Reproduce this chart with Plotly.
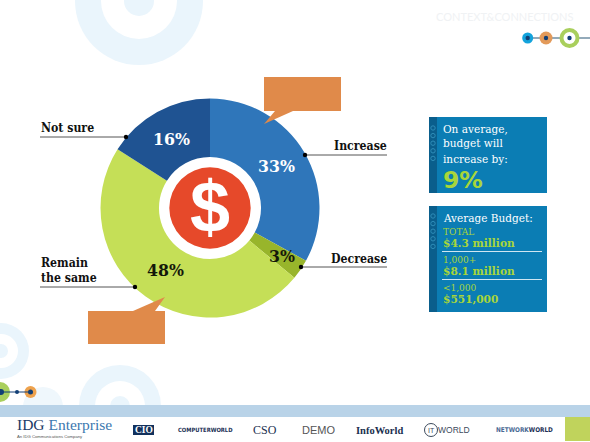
import plotly.graph_objects as go

W, H = 590, 442
# ---- data ----
categories = ["Increase", "Decrease", "Remain the same", "Not sure"]
values = [33, 3, 48, 16]
slice_colors = ["#2f76ba", "#98b52b", "#c5df57", "#1f5392"]
pct_colors = ["#ffffff", "#14180a", "#14180a", "#ffffff"]
pct_pos = [(276, 166), (282, 256), (165, 270), (171, 139)]
footer_logos = ["CSO", "DEMO", "InfoWorld", "WORLD"]

def px(x): return x / W
def py(y): return 1 - y / H

shapes, annos = [], []

def circle(cx, cy, r, fill, line=None, lw=0, layer="below"):
    shapes.append(dict(type="circle", xref="paper", yref="paper", layer=layer,
                       x0=px(cx - r), x1=px(cx + r), y0=py(cy + r), y1=py(cy - r),
                       fillcolor=fill, line=dict(color=line or fill, width=lw)))

def rect(x0, y0, x1, y1, fill, layer="below"):
    shapes.append(dict(type="rect", xref="paper", yref="paper", layer=layer,
                       x0=px(x0), x1=px(x1), y0=py(y1), y1=py(y0),
                       fillcolor=fill, line=dict(width=0)))

def seg(x0, y0, x1, y1, color, w=1, layer="above"):
    shapes.append(dict(type="line", xref="paper", yref="paper", layer=layer,
                       x0=px(x0), x1=px(x1), y0=py(y0), y1=py(y1),
                       line=dict(color=color, width=w)))

def tri(pts, fill):
    path = "M " + " L ".join(f"{px(a):.5f},{py(b):.5f}" for a, b in pts) + " Z"
    shapes.append(dict(type="path", xref="paper", yref="paper", layer="above", path=path,
                       fillcolor=fill, line=dict(width=0)))

def text(x, y, s, size, color="#111", font="DejaVu Serif", anchor="left", bold=False):
    if bold:
        s = f"<b>{s}</b>"
    annos.append(dict(x=px(x), y=py(y), xref="paper", yref="paper", text=s, showarrow=False,
                      xanchor=anchor, yanchor="middle", align=anchor, borderpad=0,
                      font=dict(size=size, color=color, family=font)))

RING = "#eaf5fc"
# faint background rings
for cx, cy, R, r, b in [(139, 1, 64, 38, 15), (1, 351, 28, 17, 7), (120, 406, 41, 25, 10)]:
    circle(cx, cy, R, RING)
    circle(cx, cy, r, "#ffffff")
    circle(cx, cy, b, RING)
circle(43, 407, 20, "#eff7fc")

# footer
rect(0, 405, W, 417, "#b9d3e8")
rect(0, 417, W, H, "#ffffff")
rect(565, 417, W, 441, "#c0d35c")

# connector dots, top right
seg(527, 38, W, 38, "#6f8ea3", 1.5, "below")
circle(527.7, 38, 5.5, "#13a3dc")
circle(546, 38, 6.5, "#e39a5a")
circle(569.5, 38, 8, "#ffffff", "#a9cf5c", 4)
for x in (527.7, 546, 569.5):
    circle(x, 38, 2.2, "#123f75")
text(505, 17, "CONTEXT&amp;CONNECTIONS", 11, "#f0f2f4", "Lato", "center")

# connector dots, bottom left
circle(0, 392, 10, "#a9cf5c")
circle(30.5, 392, 6, "#eea24d")
seg(0, 392, 31, 392, "#123f75", 1, "below")
for x, r in [(1, 3), (17, 2), (30.5, 2.5)]:
    circle(x, 392, r, "#123f75")

# info boxes
BOX, STRIP = "#0b7db4", "#0a5e8c"
rect(429, 117, 547, 193, BOX)
rect(429, 117, 437, 193, STRIP)
rect(429, 206, 547, 312, BOX)
rect(429, 206, 437, 312, STRIP)
for y0 in (128, 216):
    for i in range(5):
        circle(433, y0 + i * 7.6, 2.2, STRIP, "#2f8db8", 1)
GREEN = "#a8d63a"
SERIF = "DejaVu Serif Condensed"
text(442, 128.5, "On average,", 11.7, "#ffffff", SERIF)
text(442, 143.5, "budget will", 11.7, "#ffffff", SERIF)
text(442, 158.5, "increase by:", 11.7, "#ffffff", SERIF)
text(442, 180, "9%", 23.5, GREEN, "DejaVu Sans", bold=True)
text(442, 218, "Average Budget:", 11.7, "#ffffff", SERIF)
text(442, 231, "TOTAL", 10, GREEN, SERIF)
text(442, 243, "$4.3 million", 11.8, GREEN, SERIF, bold=True)
seg(442, 251.5, 542, 251.5, "#cfe6f2", 1)
text(442, 259, "1,000+", 10, GREEN, SERIF)
text(442, 271, "$8.1 million", 11.8, GREEN, SERIF, bold=True)
seg(442, 279.5, 542, 279.5, "#cfe6f2", 1)
text(442, 287, "&lt;1,000", 10, GREEN, SERIF)
text(442, 299, "$551,000", 11.8, GREEN, SERIF, bold=True)

# callouts
CALL = "#e08a4a"
rect(264, 77, 341, 111, CALL, "above")
tri([(275, 111), (264, 124), (293, 111)], CALL)
rect(88, 311, 165, 344, CALL, "above")
tri([(133, 311), (165, 297), (155, 311)], CALL)

# centre icon
circle(210, 208, 40.7, "#e6492a", layer="above")
text(210, 207, "$", 72, "#ffffff", "Liberation Sans", "center", bold=True)

# leader lines and labels
LINE = "#555555"
leaders = [(40, 137, 126, 137), (305, 155, 387, 155), (301, 267, 387, 267), (40, 287, 135, 287)]
for x0, y0, x1, y1 in leaders:
    seg(x0, y0, x1, y1, LINE, 1)
for x, y in [(126, 137), (305, 155), (301, 267), (135, 287)]:
    circle(x, y, 2.2, "#000000", layer="above")
LAB = "DejaVu Serif Condensed"
text(39.5, 128, categories[3], 12.2, "#111", LAB, bold=True)
text(387.5, 146, categories[0], 12.2, "#111", LAB, "right", bold=True)
text(387.5, 258.5, categories[1], 12.2, "#111", LAB, "right", bold=True)
text(39.5, 263, "Remain", 12.2, "#111", LAB, bold=True)
text(39.5, 278, "the same", 12.2, "#111", LAB, bold=True)

# percentages
for v, c, (x, y) in zip(values, pct_colors, pct_pos):
    text(x, y, f"{v}%", 17.5, c, LAB, "center", bold=True)

# footer logos
NARROW = "DejaVu Sans Condensed"
annos_footer = [
    (16, 424.5, "<span style='color:#1b3a66'>IDG</span> <span style='color:#3b78b0'>Enterprise</span>", 15.5, "#1b3a66", "Liberation Serif", "left", False),
    (16, 436.5, "An IDG Communications Company", 4.2, "#555", "Liberation Sans", "left", False),
    (205, 430, "COMPUTERWORLD", 5.8, "#1b2f55", NARROW, "center", True),
    (265, 430, footer_logos[0], 12, "#1b2f4f", "Liberation Serif", "center", False),
    (318, 430, footer_logos[1], 11, "#555", "Liberation Sans", "center", False),
    (380, 430, footer_logos[2], 10.5, "#1b2f4f", "Liberation Serif", "center", True),
    (454, 430, footer_logos[3], 8.5, "#3c4a5c", "Liberation Sans", "center", False),
    (524, 430, "<span style='color:#4a6a94'>NETWORK</span>WORLD", 6.4, "#1b2f55", NARROW, "center", True),
]
rect(133, 425, 154, 435, "#12315c")
text(143.5, 430, "CIO", 9.5, "#ffffff", "Liberation Serif", "center", True)
for a in annos_footer:
    text(*a[:7], bold=a[7])
circle(431, 430, 6.5, "#ffffff", "#3c4a5c", 1)
text(431, 430, "IT", 7, "#3c4a5c", "Liberation Sans", "center")

fig = go.Figure(go.Pie(
    labels=categories, values=values, sort=False, direction="clockwise", rotation=0,
    hole=0.466, marker=dict(colors=slice_colors, line=dict(width=0)),
    textinfo="none", hoverinfo="skip", showlegend=False,
    domain=dict(x=[px(100.5), px(319.5)], y=[py(317.5), py(98.5)]),
))
fig.update_layout(width=W, height=H, autosize=False, margin=dict(l=0, r=0, t=0, b=0),
                  paper_bgcolor="#ffffff", plot_bgcolor="#ffffff",
                  shapes=shapes, annotations=annos, showlegend=False)
fig.write_html("out.html", config=dict(displayModeBar=False),
               post_script="document.body.style.margin='0';document.body.style.overflow='hidden';")
